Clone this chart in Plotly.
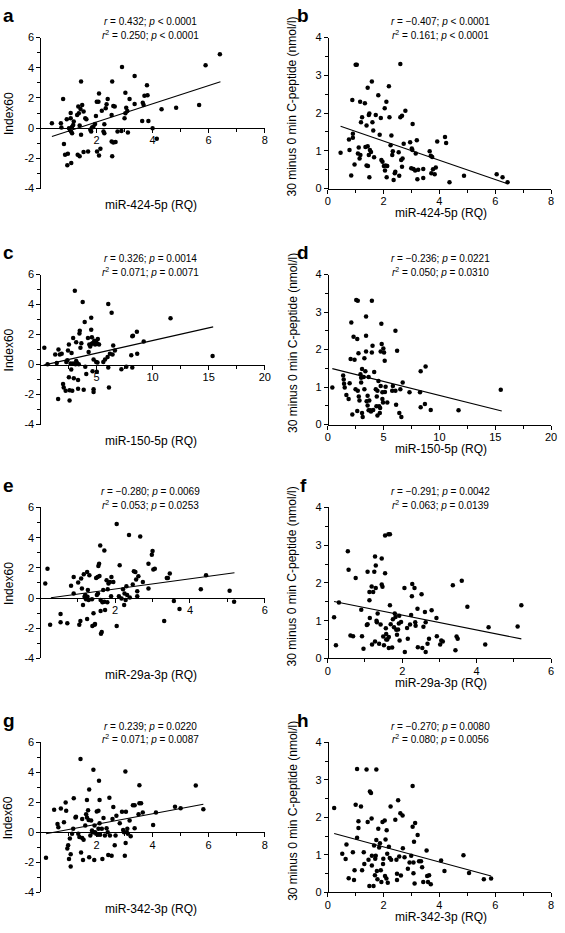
import plotly.graph_objects as go

# ---------------- data ----------------
a_pts = [(0.41,0.33),(0.73,0.33),(0.81,1.93),(0.75,0.05),(0.84,-1.05),(0.88,-1.75),(0.98,-1.69),(0.96,-2.46),
         (1.10,-2.30),(0.94,0.60),(1.08,1.00),(1.08,0.66),(1.02,0.00),(1.13,0.10),(1.17,0.22),(1.19,0.44),
         (1.09,-0.20),(1.13,-0.33),(1.31,0.88),(1.35,1.43),(1.43,1.27),(1.49,1.53),(1.45,3.10),(1.37,0.99),
         (1.40,0.18),(1.45,-0.44),(1.33,-1.75),(1.40,-1.86),(1.54,-1.58),(1.70,-1.54),(1.54,1.10),(1.60,0.66),
         (1.64,0.60),(1.78,-0.10),(1.81,-0.22),(1.84,0.04),(1.89,0.11),(1.95,0.28),(1.98,0.81),(2.01,1.75),
         (2.07,1.75),(2.09,2.30),(2.02,-1.54),(2.09,-1.80),(2.14,-1.36),(2.19,1.16),(2.25,-0.22),(2.28,0.26),
         (2.33,1.32),(2.36,1.58),(2.40,1.93),(2.28,-0.33),(2.54,0.88),(2.56,3.10),(2.60,1.47),(2.65,1.43),
         (2.54,-0.88),(2.60,-0.94),(2.68,-0.92),(2.56,-1.86),(2.75,-0.22),(2.91,4.06),(2.89,-0.18),(3.00,0.66),
         (3.03,0.99),(3.03,2.35),(3.06,1.36),(3.10,1.14),(3.12,-0.29),(3.18,1.93),(3.36,3.46),(3.36,1.60),
         (3.65,1.69),(3.68,1.53),(3.71,2.15),(3.80,2.85),(3.82,2.19),(3.85,0.48),(3.63,0.48),(4.15,-0.70),
         (4.32,1.25),(4.84,1.36),(5.66,1.53),(5.89,4.17),(6.40,4.89),(4.00,0.00)]
a_fit_x = [0.41, 6.42]
a_fit_y = [-0.55, 3.07]

b_pts = [(0.46,0.95),(0.78,1.02),(0.76,1.30),(0.84,0.35),(0.88,2.35),(0.90,1.45),(0.90,1.35),(1.00,3.28),
         (1.04,3.28),(0.96,0.64),(1.08,0.93),(1.11,1.09),(1.14,0.80),(1.17,0.89),(1.16,2.30),(1.19,1.76),
         (1.23,1.89),(1.33,2.26),(1.35,1.10),(1.39,0.61),(1.44,0.60),(1.39,1.67),(1.43,2.67),(1.47,1.95),
         (1.49,1.99),(1.43,1.12),(1.47,0.89),(1.51,1.02),(1.55,0.97),(1.49,0.30),(1.58,2.84),(1.60,1.76),
         (1.63,1.54),(1.66,0.83),(1.72,1.95),(1.81,2.47),(1.86,1.43),(1.90,1.87),(1.92,0.76),(1.96,0.71),
         (2.01,0.60),(2.04,2.13),(2.05,0.48),(2.07,0.61),(2.10,2.30),(2.11,0.30),(2.13,0.60),(2.19,2.71),
         (2.21,1.89),(2.25,1.15),(2.28,1.41),(2.31,0.89),(2.33,0.99),(2.36,0.23),(2.40,0.41),(2.42,0.45),
         (2.54,0.96),(2.56,0.34),(2.60,3.30),(2.60,1.89),(2.66,1.93),(2.63,0.76),(2.66,0.58),(2.68,0.80),
         (2.72,1.19),(2.78,2.06),(2.95,1.23),(2.99,0.54),(3.01,1.06),(3.03,1.02),(3.04,1.71),(3.07,0.52),
         (3.13,0.48),(3.15,0.93),(3.19,1.28),(3.21,0.25),(3.24,0.50),(3.42,0.52),(3.42,0.28),(3.65,0.99),
         (3.69,0.87),(3.74,0.84),(3.71,0.41),(3.77,0.51),(3.83,0.38),(3.87,0.56),(3.92,1.25),(4.20,1.37),
         (4.24,1.21),(4.36,0.17),(4.88,0.34),(6.05,0.38),(6.26,0.30),(6.44,0.17)]
b_fit_x = [0.46, 6.44]
b_fit_y = [1.65, 0.13]

c_pts = [(0.35,1.11),(0.64,0.02),(1.32,0.66),(1.46,0.11),(1.58,-2.29),(1.61,1.00),(1.73,0.66),(1.90,0.72),
         (2.02,-1.29),(2.08,-1.53),(2.25,-1.75),(2.31,0.17),(2.40,0.28),(2.46,0.94),(2.54,1.33),(2.54,-0.85),
         (2.60,-1.72),(2.60,-2.40),(2.69,0.07),(2.75,-0.33),(2.78,0.76),(2.84,-1.75),(2.92,1.77),(2.92,0.07),
         (2.98,-0.92),(3.07,4.91),(3.13,0.02),(3.19,1.48),(3.19,0.24),(3.27,0.11),(3.36,-1.03),(3.36,-1.62),
         (3.42,0.02),(3.48,2.07),(3.51,2.25),(3.57,1.11),(3.65,1.42),(3.77,4.17),(3.86,-1.68),(3.95,2.84),
         (4.00,-0.15),(4.09,-0.63),(4.24,1.77),(4.30,0.83),(4.36,1.33),(4.44,1.20),(4.53,3.12),(4.53,2.31),
         (4.59,1.81),(4.59,1.38),(4.65,1.42),(4.65,-0.44),(4.74,-1.64),(4.74,-1.83),(4.74,0.33),(4.80,1.59),
         (4.88,1.33),(4.97,1.48),(4.97,0.17),(5.03,-0.48),(5.09,1.38),(5.12,1.70),(5.23,1.33),(5.09,0.13),
         (5.61,0.17),(5.76,0.33),(5.99,0.50),(6.05,4.04),(6.05,-0.20),(6.11,-1.53),(6.20,0.72),(6.35,3.45),
         (6.43,0.66),(6.49,1.27),(6.64,0.94),(7.22,-0.31),(7.66,-0.15),(8.10,0.61),(8.19,-0.20),(8.19,1.88),
         (8.25,1.92),(8.60,2.18),(8.63,0.72),(9.21,1.53),(11.60,3.08),(15.35,0.57)]
c_fit_x = [0.29, 15.4]
c_fit_y = [-0.04, 2.51]

d_pts = [(0.41,0.99),(1.38,1.31),(1.43,1.20),(1.46,1.09),(1.52,0.99),(1.67,0.79),(1.87,0.68),(1.96,1.10),
         (2.05,1.75),(2.11,2.72),(2.20,0.27),(2.31,2.34),(2.40,1.73),(2.49,0.94),(2.55,3.32),(2.69,3.30),
         (2.64,2.28),(2.69,0.90),(2.64,0.36),(2.75,1.90),(2.78,0.75),(2.84,0.64),(2.93,1.34),(2.99,1.25),
         (2.99,1.12),(3.07,1.48),(3.07,0.31),(3.13,0.20),(3.22,1.27),(3.28,0.94),(3.28,1.77),(3.37,1.42),
         (3.43,2.88),(3.43,2.37),(3.43,1.95),(3.48,0.62),(3.57,0.77),(3.57,0.51),(3.66,1.27),(3.66,0.38),
         (3.72,0.64),(3.81,0.38),(3.87,0.35),(3.95,3.30),(3.95,1.92),(4.01,2.10),(4.07,0.39),(4.16,1.40),
         (4.30,0.94),(4.39,0.75),(4.45,0.90),(4.36,0.49),(4.45,0.24),(4.54,1.16),(4.60,0.49),(4.66,0.31),
         (4.69,0.44),(4.74,1.95),(4.74,1.03),(4.80,2.69),(4.83,2.15),(4.89,0.68),(4.89,0.86),(4.95,0.59),
         (4.98,2.03),(5.04,1.92),(5.10,1.70),(5.12,0.87),(5.18,1.01),(5.33,0.59),(5.77,0.90),(5.83,1.03),
         (6.06,0.90),(6.06,2.50),(6.12,0.53),(6.21,1.97),(6.41,0.31),(6.59,0.20),(6.50,0.94),(6.71,1.12),
         (7.32,0.86),(8.26,0.86),(8.32,1.42),(8.32,0.46),(8.70,0.55),(8.76,1.55),(9.22,0.39),(11.71,0.38),
         (15.49,0.93)]
d_fit_x = [0.41, 15.58]
d_fit_y = [1.49, 0.36]

e_pts = [(0.13,0.96),(0.19,1.95),(0.26,-1.77),(0.54,-1.05),(0.54,-1.60),(0.72,-1.66),(0.82,0.81),(0.89,1.40),
         (0.89,0.31),(1.01,1.03),(1.04,-1.77),(1.07,-1.51),(1.09,1.29),(1.11,0.63),(1.14,-0.46),(1.16,1.58),
         (1.18,0.09),(1.20,0.20),(1.22,-0.07),(1.25,1.73),(1.25,-1.38),(1.26,0.09),(1.27,0.53),(1.29,-0.13),
         (1.31,1.51),(1.38,-0.07),(1.39,-1.84),(1.42,-1.01),(1.45,-1.77),(1.46,-1.71),(1.49,1.33),(1.51,0.20),
         (1.53,1.40),(1.54,0.31),(1.55,2.12),(1.57,2.28),(1.58,1.47),(1.60,3.48),(1.61,-0.85),(1.61,-0.13),
         (1.62,-2.36),(1.64,-2.25),(1.66,-0.28),(1.68,0.53),(1.71,3.15),(1.71,-0.24),(1.73,-0.79),(1.77,1.18),
         (1.79,-0.28),(1.80,0.59),(1.82,0.96),(1.86,1.07),(1.89,0.13),(1.90,1.40),(1.95,1.07),(2.04,4.90),
         (2.04,-1.84),(2.10,0.13),(2.12,2.17),(2.17,-0.02),(2.21,0.59),(2.24,-0.46),(2.25,0.31),(2.28,-0.13),
         (2.30,0.79),(2.32,0.20),(2.37,4.18),(2.39,0.04),(2.47,0.90),(2.50,1.77),(2.54,1.73),(2.56,1.23),
         (2.59,0.46),(2.59,0.13),(2.62,1.44),(2.67,4.07),(2.74,1.07),(2.89,0.63),(2.89,2.28),(2.98,2.87),
         (3.00,3.11),(3.02,1.90),(3.06,1.95),(3.31,-1.51),(3.38,1.33),(3.41,1.33),(3.46,1.62),(3.57,-0.20),
         (3.72,-0.72),(4.29,0.59),(4.43,1.51),(5.06,0.48),(5.18,-0.24)]
e_fit_x = [0.28, 5.19]
e_fit_y = [0.02, 1.68]

f_pts = [(0.17,1.09),(0.22,0.35),(0.30,1.48),(0.54,2.84),(0.56,2.35),(0.61,0.61),(0.68,0.59),(0.75,2.13),
         (0.90,1.29),(0.92,0.59),(0.96,0.26),(1.05,0.89),(1.07,0.91),(1.07,2.30),(1.12,1.76),(1.12,1.54),
         (1.13,1.07),(1.18,1.91),(1.19,0.37),(1.22,1.76),(1.25,2.30),(1.27,2.70),(1.27,0.45),(1.29,2.46),
         (1.29,1.87),(1.31,1.00),(1.32,0.96),(1.34,1.19),(1.38,0.39),(1.42,0.90),(1.45,2.65),(1.45,1.96),
         (1.47,1.90),(1.49,0.58),(1.51,0.35),(1.54,3.26),(1.54,2.26),(1.56,0.80),(1.57,0.65),(1.57,0.50),
         (1.60,0.50),(1.63,3.29),(1.64,0.57),(1.67,3.29),(1.67,1.41),(1.64,0.28),(1.69,0.91),(1.73,0.29),
         (1.75,1.04),(1.78,0.83),(1.80,1.19),(1.82,1.10),(1.84,0.76),(1.86,0.63),(1.89,0.77),(1.91,0.93),
         (1.92,1.13),(1.93,0.48),(1.97,0.97),(2.06,1.87),(2.07,0.17),(2.13,0.81),(2.15,0.52),(2.21,0.90),
         (2.24,1.15),(2.26,1.65),(2.27,1.97),(2.33,1.87),(2.35,0.96),(2.36,0.87),(2.41,1.32),(2.42,0.30),
         (2.52,1.70),(2.54,0.28),(2.57,0.84),(2.61,1.23),(2.63,0.96),(2.63,0.17),(2.68,0.39),(2.72,0.52),
         (2.79,1.28),(2.92,1.07),(2.93,0.59),(3.02,0.37),(3.05,0.48),(3.09,0.45),(3.36,1.94),(3.43,0.22),
         (3.46,0.58),(3.49,0.52),(3.60,2.06),(3.75,1.37),(4.23,0.37),(4.32,0.83),(5.10,0.85),(5.20,1.41)]
f_fit_x = [0.17, 5.20]
f_fit_y = [1.51, 0.52]

g_pts = [(0.20,-1.68),(0.49,1.51),(0.61,0.57),(0.64,0.35),(0.73,1.59),(0.84,0.68),(0.90,1.99),(0.92,1.44),
         (0.96,-1.07),(0.99,-0.85),(1.02,-1.77),(1.05,-0.41),(1.08,-1.46),(1.08,-2.27),(1.13,-0.09),(1.17,0.24),
         (1.19,2.28),(1.25,1.00),(1.27,1.05),(1.35,-0.09),(1.39,-0.31),(1.43,4.89),(1.45,-1.33),(1.49,-0.37),
         (1.49,0.90),(1.52,-1.83),(1.54,-0.48),(1.60,0.46),(1.63,1.22),(1.66,2.16),(1.66,1.00),(1.70,1.48),
         (1.72,0.83),(1.74,2.86),(1.74,-1.66),(1.78,-0.20),(1.81,0.79),(1.84,0.13),(1.86,0.02),(1.89,4.17),
         (1.89,0.02),(1.92,-1.83),(1.93,0.46),(1.95,0.02),(1.99,-0.09),(2.01,1.40),(2.05,-0.15),(2.07,1.44),
         (2.07,0.24),(2.09,3.45),(2.11,2.16),(2.11,0.61),(2.13,-0.15),(2.19,0.24),(2.21,-1.77),(2.25,0.96),
         (2.30,-0.20),(2.36,0.28),(2.40,0.02),(2.42,-1.51),(2.46,2.31),(2.48,-0.20),(2.54,-1.55),(2.57,0.90),
         (2.60,1.70),(2.65,-0.85),(2.68,-0.20),(2.71,1.11),(2.83,0.61),(2.91,1.38),(2.95,0.17),(2.98,0.02),
         (3.01,-1.55),(3.03,4.06),(3.04,-0.70),(3.05,1.38),(3.08,0.02),(3.10,0.24),(3.12,-0.09),(3.18,0.79),
         (3.22,-0.26),(3.30,1.81),(3.36,1.81),(3.36,0.28),(3.50,1.22),(3.53,3.14),(3.53,1.94),(3.59,1.94),
         (3.65,1.33),(4.02,0.50),(4.12,1.33),(4.80,1.72),(5.00,1.62),(5.54,3.12),(5.81,1.55)]
g_fit_x = [0.20, 5.81]
g_fit_y = [-0.09, 1.88]

h_pts = [(0.23,2.25),(0.52,1.03),(0.64,0.89),(0.67,1.28),(0.75,0.38),(0.90,1.07),(0.94,0.33),(0.96,0.59),
         (1.00,2.34),(1.05,3.29),(1.05,1.46),(1.10,1.90),(1.10,1.72),(1.19,2.29),(1.23,0.59),(1.29,1.07),
         (1.31,0.76),(1.39,3.28),(1.43,1.88),(1.46,0.87),(1.49,0.17),(1.51,2.69),(1.55,2.65),(1.57,1.97),
         (1.58,0.98),(1.58,0.72),(1.64,0.17),(1.66,1.25),(1.69,0.46),(1.70,0.90),(1.72,0.98),(1.74,3.28),
         (1.74,1.40),(1.76,0.57),(1.78,0.35),(1.81,1.70),(1.84,1.20),(1.87,1.31),(1.90,0.59),(1.92,0.28),
         (1.96,1.88),(1.98,0.76),(1.99,0.90),(2.04,1.92),(2.05,0.44),(2.07,1.41),(2.10,0.37),(2.11,1.66),
         (2.13,1.03),(2.15,0.26),(2.19,1.22),(2.22,0.92),(2.25,2.29),(2.27,0.87),(2.42,1.94),(2.46,0.87),
         (2.48,0.50),(2.48,0.33),(2.52,2.46),(2.56,0.96),(2.60,2.11),(2.62,0.45),(2.68,2.05),(2.69,1.18),
         (2.75,0.94),(2.87,0.63),(2.93,0.80),(2.99,0.98),(3.04,2.84),(3.04,1.75),(3.07,0.51),(3.07,0.80),
         (3.09,1.35),(3.13,1.85),(3.11,0.24),(3.22,1.53),(3.27,0.83),(3.34,0.83),(3.38,0.67),(3.42,0.28),
         (3.54,1.12),(3.56,0.44),(3.59,0.28),(3.63,0.46),(3.69,0.22),(4.06,0.85),(4.18,0.57),(4.86,0.99),
         (5.06,0.52),(5.59,0.35),(5.85,0.37)]
h_fit_x = [0.23, 5.85]
h_fit_y = [1.57, 0.44]

letters = ["a", "b", "c", "d", "e", "f", "g", "h"]
x_titles = ["miR-424-5p (RQ)", "miR-424-5p (RQ)", "miR-150-5p (RQ)", "miR-150-5p (RQ)",
            "miR-29a-3p (RQ)", "miR-29a-3p (RQ)", "miR-342-3p (RQ)", "miR-342-3p (RQ)"]
y_titles = ["Index60", "30 minus 0 min C-peptide (nmol/l)"]
stat_r = ["0.432", "\u22120.407", "0.326", "\u22120.236", "\u22120.280", "\u22120.291", "0.239", "\u22120.270"]
stat_p1 = ["&lt; 0.0001", "&lt; 0.0001", "= 0.0014", "= 0.0221", "= 0.0069", "= 0.0042", "= 0.0220", "= 0.0080"]
stat_r2 = ["0.250", "0.161", "0.071", "0.050", "0.053", "0.063", "0.071", "0.080"]
stat_p2 = ["&lt; 0.0001", "&lt; 0.0001", "= 0.0071", "= 0.0310", "= 0.0253", "= 0.0139", "= 0.0087", "= 0.0056"]
x_max = [8, 8, 20, 20, 6, 6, 8, 8]
x_dtick = [2, 2, 5, 5, 2, 2, 2, 2]

points = [a_pts, b_pts, c_pts, d_pts, e_pts, f_pts, g_pts, h_pts]
fits = [(a_fit_x, a_fit_y), (b_fit_x, b_fit_y), (c_fit_x, c_fit_y), (d_fit_x, d_fit_y),
        (e_fit_x, e_fit_y), (f_fit_x, f_fit_y), (g_fit_x, g_fit_y), (h_fit_x, h_fit_y)]

# ---------------- layout geometry (pixels) ----------------
W, H = 565, 933
FONT = "Liberation Sans, Arial, Helvetica, sans-serif"
col_px = [(38, 266), (330, 557)]
row_px = [(32, 185), (272, 424), (508, 661), (746, 898)]


def px_x(p):
    return p / W


def px_y(p):
    return 1 - p / H


fig = go.Figure()
layout = dict(
    width=W, height=H, margin=dict(l=0, r=0, t=0, b=0),
    paper_bgcolor="white", plot_bgcolor="white", showlegend=False,
    font=dict(family=FONT, size=11, color="black"),
)
annotations = []

for i in range(8):
    row, col = divmod(i, 2)
    n = i + 1
    xs = [p[0] for p in points[i]]
    ys = [p[1] for p in points[i]]
    xa = "x" if n == 1 else f"x{n}"
    ya = "y" if n == 1 else f"y{n}"
    fig.add_trace(go.Scatter(x=xs, y=ys, mode="markers", xaxis=xa, yaxis=ya,
                             marker=dict(size=4.5, color="black"), cliponaxis=False))
    fig.add_trace(go.Scatter(x=fits[i][0], y=fits[i][1], mode="lines", xaxis=xa, yaxis=ya,
                             line=dict(color="black", width=1.1)))

    x0, x1 = col_px[col]
    top, bot = row_px[row]
    xdom = [px_x(x0), px_x(x1)]
    ydom = [px_y(bot), px_y(top)]
    dt = x_dtick[i]
    xm = x_max[i]
    major = [k * dt for k in range(0 if col == 1 else 1, int(xm / dt) + 1)]
    minor_vals = [k * dt / 2 for k in range(0, int(2 * xm / dt) + 1)]

    xaxis = dict(domain=xdom, range=[0, xm], showgrid=False, zeroline=False,
                 showline=True, linecolor="black", linewidth=1,
                 ticks="outside", ticklen=4, tickwidth=1, tickcolor="black",
                 tickmode="array", tickvals=major, ticktext=[str(v) for v in major],
                 tickfont=dict(size=11, family=FONT), ticklabelstandoff=-2,
                 minor=dict(tickmode="array", tickvals=minor_vals, ticklen=3, tickwidth=1,
                            tickcolor="black", ticks="outside"),
                 fixedrange=True)
    if col == 0:
        yr = [-4, 6]
        ymajor = [-4, -2, 0, 2, 4, 6]
        yminor = list(range(-4, 7))
        xaxis.update(anchor="free", position=ydom[0] + 0.4 * (ydom[1] - ydom[0]))
    else:
        yr = [0, 4]
        ymajor = [0, 1, 2, 3, 4]
        yminor = [k * 0.5 for k in range(0, 9)]
        xaxis.update(anchor=ya)
    yaxis = dict(domain=ydom, range=yr, showgrid=False, zeroline=False,
                 showline=True, linecolor="black", linewidth=1,
                 ticks="outside", ticklen=4, tickwidth=1, tickcolor="black",
                 tickmode="array", tickvals=ymajor, ticktext=[str(v) for v in ymajor],
                 tickfont=dict(size=11, family=FONT),
                 minor=dict(tickmode="array", tickvals=yminor, ticklen=3, tickwidth=1,
                            tickcolor="black", ticks="outside"),
                 anchor="free", position=xdom[0], fixedrange=True)
    layout["xaxis" if n == 1 else f"xaxis{n}"] = xaxis
    layout["yaxis" if n == 1 else f"yaxis{n}"] = yaxis

    cx = 150 if col == 0 else 445
    # statistics text
    annotations.append(dict(x=px_x(cx), y=px_y(top - 16), xref="paper", yref="paper",
                            text=f"<i>r</i> = {stat_r[i]}; <i>p</i> {stat_p1[i]}",
                            showarrow=False, xanchor="center", yanchor="middle",
                            font=dict(size=10, family=FONT)))
    annotations.append(dict(x=px_x(cx), y=px_y(top - 3), xref="paper", yref="paper",
                            text=f"<i>r</i><sup>2</sup> = {stat_r2[i]}; <i>p</i> {stat_p2[i]}",
                            showarrow=False, xanchor="center", yanchor="middle",
                            font=dict(size=10, family=FONT)))
    # x title
    ty = bot + (17 if col == 0 else 25)
    annotations.append(dict(x=px_x(cx), y=px_y(ty), xref="paper", yref="paper",
                            text=x_titles[i], showarrow=False, xanchor="center", yanchor="middle",
                            font=dict(size=12, family=FONT)))
    # y title
    yx = 6 if col == 0 else 294
    ymid = (top + bot) / 2 - (0 if col == 0 else 7)
    annotations.append(dict(x=px_x(yx), y=px_y(ymid), xref="paper", yref="paper",
                            text=y_titles[col], textangle=-90, showarrow=False,
                            xanchor="center", yanchor="middle", font=dict(size=12, family=FONT)))
    # panel letter
    lx = 6 if col == 0 else 305
    ly = top - 22
    annotations.append(dict(x=px_x(lx), y=px_y(ly), xref="paper", yref="paper",
                            text=f"<b>{letters[i]}</b>", showarrow=False,
                            xanchor="center", yanchor="middle", font=dict(size=19, family=FONT)))

layout["annotations"] = annotations
fig.update_layout(**layout)
fig.write_html("out.html", config={"displayModeBar": False, "staticPlot": True},
               post_script="document.documentElement.style.margin='0';"
                           "document.body.style.margin='0';document.body.style.padding='0';"
                           "document.body.style.overflow='hidden';")
